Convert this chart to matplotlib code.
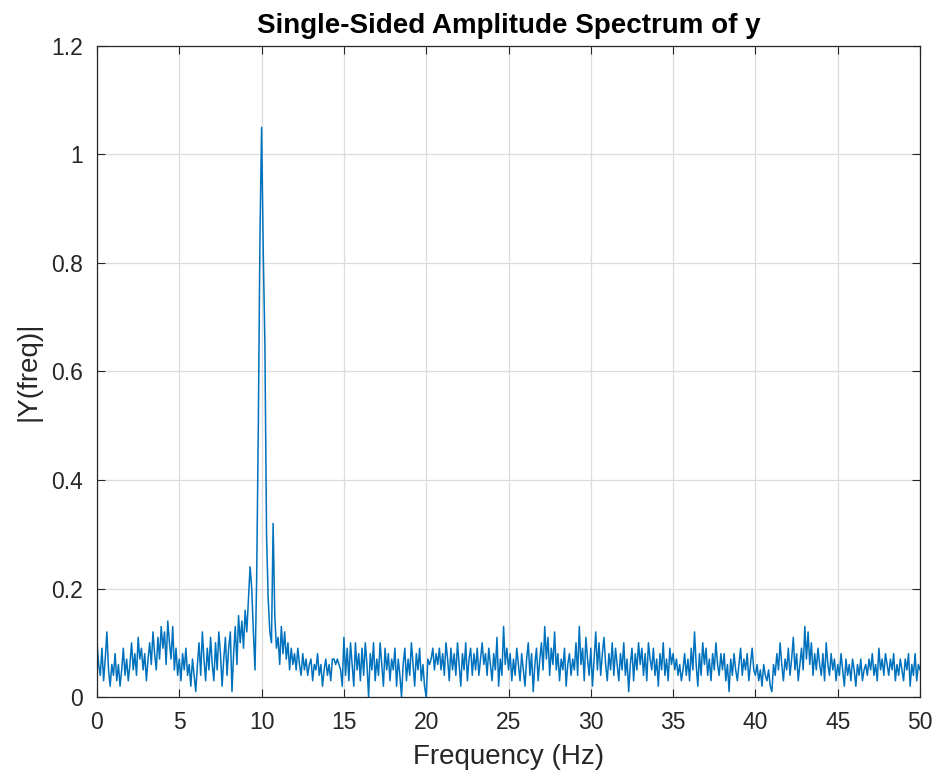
import numpy as np
import matplotlib.pyplot as plt
import matplotlib.ticker

plt.rcParams['font.family'] = ['Liberation Sans', 'DejaVu Sans']

# |Y(freq)|, one row per Hz (0.1 Hz steps)
amp_rows = [
    [0.10, 0.06, 0.04, 0.09, 0.03, 0.07, 0.12, 0.05, 0.02, 0.06],  # 0
    [0.04, 0.08, 0.03, 0.06, 0.02, 0.05, 0.09, 0.04, 0.07, 0.03],  # 1
    [0.06, 0.10, 0.05, 0.08, 0.04, 0.11, 0.07, 0.09, 0.05, 0.08],  # 2
    [0.03, 0.07, 0.10, 0.06, 0.12, 0.08, 0.05, 0.11, 0.07, 0.13],  # 3
    [0.09, 0.12, 0.06, 0.14, 0.10, 0.07, 0.13, 0.05, 0.09, 0.04],  # 4
    [0.07, 0.03, 0.08, 0.05, 0.09, 0.04, 0.06, 0.02, 0.07, 0.04],  # 5
    [0.01, 0.06, 0.10, 0.04, 0.12, 0.07, 0.03, 0.09, 0.05, 0.11],  # 6
    [0.06, 0.03, 0.10, 0.05, 0.12, 0.08, 0.02, 0.07, 0.11, 0.04],  # 7
    [0.09, 0.12, 0.01, 0.08, 0.13, 0.06, 0.15, 0.10, 0.14, 0.09],  # 8
    [0.16, 0.12, 0.18, 0.24, 0.20, 0.12, 0.05, 0.22, 0.50, 0.85],  # 9
    [1.05, 0.82, 0.65, 0.30, 0.18, 0.12, 0.10, 0.32, 0.15, 0.09],  # 10
    [0.11, 0.06, 0.13, 0.08, 0.12, 0.07, 0.10, 0.05, 0.09, 0.06],  # 11
    [0.08, 0.05, 0.09, 0.06, 0.04, 0.08, 0.05, 0.07, 0.04, 0.06],  # 12
    [0.07, 0.03, 0.06, 0.05, 0.08, 0.04, 0.06, 0.02, 0.05, 0.07],  # 13
    [0.04, 0.06, 0.03, 0.07, 0.07, 0.06, 0.07, 0.06, 0.05, 0.02],  # 14
    [0.11, 0.04, 0.09, 0.03, 0.10, 0.06, 0.02, 0.10, 0.05, 0.08],  # 15
    [0.03, 0.09, 0.04, 0.10, 0.06, 0.00, 0.08, 0.05, 0.10, 0.03],  # 16
    [0.07, 0.04, 0.10, 0.06, 0.02, 0.09, 0.05, 0.08, 0.03, 0.07],  # 17
    [0.05, 0.09, 0.02, 0.07, 0.04, 0.00, 0.06, 0.09, 0.03, 0.07],  # 18
    [0.04, 0.10, 0.06, 0.02, 0.08, 0.05, 0.09, 0.03, 0.06, 0.02],  # 19
    [0.00, 0.07, 0.06, 0.07, 0.09, 0.05, 0.08, 0.06, 0.09, 0.05],  # 20
    [0.08, 0.04, 0.10, 0.07, 0.03, 0.09, 0.05, 0.08, 0.04, 0.10],  # 21
    [0.06, 0.02, 0.08, 0.05, 0.10, 0.03, 0.07, 0.09, 0.04, 0.08],  # 22
    [0.05, 0.09, 0.04, 0.07, 0.10, 0.06, 0.08, 0.04, 0.09, 0.06],  # 23
    [0.03, 0.08, 0.05, 0.11, 0.02, 0.07, 0.04, 0.13, 0.06, 0.09],  # 24
    [0.05, 0.08, 0.03, 0.07, 0.04, 0.09, 0.06, 0.03, 0.08, 0.05],  # 25
    [0.02, 0.07, 0.10, 0.04, 0.08, 0.01, 0.06, 0.09, 0.03, 0.07],  # 26
    [0.10, 0.05, 0.13, 0.07, 0.11, 0.04, 0.09, 0.06, 0.12, 0.05],  # 27
    [0.08, 0.03, 0.07, 0.05, 0.09, 0.02, 0.06, 0.08, 0.04, 0.07],  # 28
    [0.05, 0.10, 0.04, 0.13, 0.06, 0.09, 0.03, 0.11, 0.07, 0.04],  # 29
    [0.09, 0.02, 0.07, 0.12, 0.05, 0.10, 0.04, 0.08, 0.11, 0.06],  # 30
    [0.03, 0.08, 0.05, 0.10, 0.04, 0.09, 0.06, 0.03, 0.08, 0.05],  # 31
    [0.10, 0.04, 0.07, 0.01, 0.06, 0.09, 0.03, 0.08, 0.05, 0.10],  # 32
    [0.06, 0.09, 0.04, 0.08, 0.03, 0.10, 0.07, 0.05, 0.09, 0.04],  # 33
    [0.07, 0.02, 0.08, 0.05, 0.10, 0.04, 0.07, 0.03, 0.09, 0.06],  # 34
    [0.08, 0.05, 0.07, 0.04, 0.06, 0.03, 0.05, 0.08, 0.04, 0.07],  # 35
    [0.03, 0.09, 0.05, 0.12, 0.06, 0.02, 0.08, 0.04, 0.10, 0.06],  # 36
    [0.09, 0.04, 0.07, 0.03, 0.08, 0.05, 0.10, 0.06, 0.04, 0.08],  # 37
    [0.05, 0.08, 0.03, 0.06, 0.01, 0.07, 0.04, 0.08, 0.05, 0.03],  # 38
    [0.06, 0.09, 0.04, 0.07, 0.05, 0.08, 0.03, 0.06, 0.09, 0.05],  # 39
    [0.04, 0.06, 0.03, 0.05, 0.02, 0.06, 0.04, 0.03, 0.05, 0.02],  # 40
    [0.01, 0.06, 0.04, 0.08, 0.05, 0.10, 0.06, 0.03, 0.07, 0.05],  # 41
    [0.09, 0.04, 0.07, 0.11, 0.05, 0.08, 0.03, 0.06, 0.09, 0.05],  # 42
    [0.13, 0.07, 0.12, 0.06, 0.10, 0.04, 0.08, 0.05, 0.09, 0.06],  # 43
    [0.04, 0.08, 0.03, 0.10, 0.06, 0.04, 0.08, 0.05, 0.07, 0.03],  # 44
    [0.06, 0.04, 0.08, 0.05, 0.02, 0.07, 0.04, 0.06, 0.03, 0.07],  # 45
    [0.05, 0.02, 0.06, 0.04, 0.07, 0.03, 0.05, 0.06, 0.04, 0.07],  # 46
    [0.05, 0.08, 0.04, 0.06, 0.03, 0.09, 0.05, 0.07, 0.04, 0.08],  # 47
    [0.06, 0.04, 0.07, 0.05, 0.08, 0.03, 0.06, 0.04, 0.07, 0.05],  # 48
    [0.03, 0.07, 0.05, 0.08, 0.02, 0.06, 0.04, 0.08, 0.03, 0.06],  # 49
    [0.05],                                                        # 50
]
freq_step = 0.1
x_ticks = [0, 5, 10, 15, 20, 25, 30, 35, 40, 45, 50]
y_ticks = [0, 0.2, 0.4, 0.6, 0.8, 1, 1.2]
y_tick_labels = ["0", "0.2", "0.4", "0.6", "0.8", "1", "1.2"]

amp = np.concatenate([np.array(r) for r in amp_rows])
freq = np.arange(len(amp)) * freq_step

fig = plt.figure(figsize=(9.39, 7.83), dpi=100)
ax = fig.add_axes([0.1033, 0.1098, 0.8765, 0.8315])

ax.plot(freq, amp, color="#0072BD", linewidth=1.1)

ax.set_xlim(0, 50)
ax.set_ylim(0, 1.2)
ax.set_xticks(x_ticks)
ax.set_yticks(y_ticks)
ax.set_yticklabels(y_tick_labels)
ax.grid(True, color="#dcdcdc", linewidth=0.9)
ax.set_axisbelow(True)
ax.tick_params(direction="in", top=True, right=True, labelsize=16.5,
               colors="#262626", length=6, width=0.8, pad=10)
for s in ax.spines.values():
    s.set_color("#262626")
    s.set_linewidth(0.9)

ax.set_title("Single-Sided Amplitude Spectrum of y", fontsize=20,
             fontweight="bold", pad=9)
ax.set_xlabel("Frequency (Hz)", fontsize=20, color="#262626", labelpad=7)
ax.set_ylabel("|Y(freq)|", fontsize=20, color="#262626", labelpad=7)

fig.savefig("out.png", dpi=100)
